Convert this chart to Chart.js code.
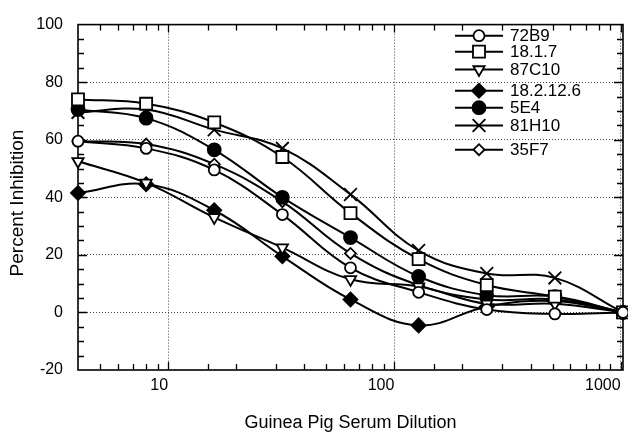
<!DOCTYPE html>
<html><head><meta charset="utf-8">
<script src="https://cdn.jsdelivr.net/npm/chart.js@4/dist/chart.umd.min.js"></script>
<style>html,body{margin:0;padding:0;background:#fff}canvas{display:block}</style>
</head><body>
<canvas id="c" width="628" height="434"></canvas>
<script>
// ---- data ----
const dilutions = [4, 8, 16, 32, 64, 128, 256, 512, 1024];
const s72B9    = [59.5, 57, 49.5, 34, 15.5, 7, 1, -0.5, 0];
const s1817    = [74, 72.5, 66, 54, 34.5, 18.5, 9.5, 5.5, 0];
const s87C10   = [52.5, 45, 33, 22.5, 11.5, 9, 3, 3, 0];
const s1821226 = [41.5, 44.5, 35.5, 19.5, 4.5, -4.5, 2, 4, 0];
const s5E4     = [70.5, 67.5, 56.5, 40, 26, 12.5, 6, 5.5, 0];
const s81H10   = [69.5, 70.5, 63.5, 57, 41, 21.5, 13.5, 12, 0];
const s35F7    = [59.5, 58.5, 51.5, 38.5, 20.5, 9.5, 4.5, 4.5, 0];
const seriesLabels = ['72B9', '18.1.7', '87C10', '18.2.12.6', '5E4', '81H10', '35F7'];
const xTickLabels = [10, 100, 1000];
const yGridValues = [0, 20, 40, 60, 80];
const xTitle = 'Guinea Pig Serum Dilution';
const yTitle = 'Percent Inhibition';

const FONT = '"Liberation Sans", Arial, Helvetica, sans-serif';
const seriesValues = [s72B9, s1817, s87C10, s1821226, s5E4, s81H10, s35F7];
const styles = [
  {pointStyle: 'circle',   pointRadius: 5.5, fill: '#fff', rot: 0},
  {pointStyle: 'rect',     pointRadius: 8.5, fill: '#fff', rot: 0},
  {pointStyle: 'triangle', pointRadius: 6.5, fill: '#fff', rot: 180},
  {pointStyle: 'rectRot',  pointRadius: 7,   fill: '#000', rot: 0},
  {pointStyle: 'circle',   pointRadius: 6.5, fill: '#000', rot: 0},
  {pointStyle: 'crossRot', pointRadius: 9,   fill: '#000', rot: 0},
  {pointStyle: 'rectRot',  pointRadius: 5.5, fill: '#fff', rot: 0}
];

const datasets = seriesLabels.map((lab, i) => ({
  label: lab,
  data: dilutions.map((x, j) => ({x: x, y: seriesValues[i][j]})),
  borderColor: '#000',
  borderWidth: 2,
  tension: 0.4,
  clip: false,
  pointStyle: styles[i].pointStyle,
  pointRadius: styles[i].pointRadius,
  pointRotation: styles[i].rot,
  pointBackgroundColor: styles[i].fill,
  pointBorderColor: '#000',
  pointBorderWidth: 1.8,
  fill: false
}));

function drawMarker(ctx, st, x, y) {
  ctx.save();
  ctx.fillStyle = st.fill; ctx.strokeStyle = '#000'; ctx.lineWidth = 1.8;
  Chart.helpers.drawPoint(ctx, {pointStyle: st.pointStyle, radius: st.pointRadius, rotation: st.rot, borderWidth: 1.8}, x, y);
  ctx.restore();
}

const framePlugin = {
  id: 'frame',
  beforeDatasetsDraw(chart, args, opts) {
    const ctx = chart.ctx, a = chart.chartArea;
    const xs = chart.scales.x, ys = chart.scales.y;
    ctx.save();
    ctx.strokeStyle = '#000';
    ctx.lineWidth = 1.6;
    ctx.strokeRect(a.left, a.top, a.right - a.left, a.bottom - a.top);
    ctx.lineWidth = 1.3;
    ctx.beginPath();
    xs.ticks.forEach(t => {
      const v = t.value;
      if (v <= xs.min || v >= xs.max) return;
      const px = Math.round(xs.getPixelForValue(v)) + 0.5;
      const major = Math.abs(Math.log10(v) - Math.round(Math.log10(v))) < 1e-9;
      const len = major ? 8 : 6;
      ctx.moveTo(px, a.bottom); ctx.lineTo(px, a.bottom - len);
      ctx.moveTo(px, a.top); ctx.lineTo(px, a.top + len);
    });
    for (let v = ys.min + 5; v < ys.max; v += 5) {
      const py = Math.round(ys.getPixelForValue(v)) + 0.5;
      const len = (v % 20 === 0) ? 9 : 6;
      ctx.moveTo(a.left, py); ctx.lineTo(a.left + len, py);
      ctx.moveTo(a.right, py); ctx.lineTo(a.right - len, py);
    }
    ctx.stroke();
    // y axis title
    ctx.translate(opts.yTitleX, opts.yTitleY);
    ctx.rotate(-Math.PI / 2);
    ctx.fillStyle = '#000';
    ctx.font = '19px ' + FONT;
    ctx.textAlign = 'center';
    ctx.textBaseline = 'middle';
    ctx.fillText(yTitle, 0, 0);
    ctx.restore();
  }
};

const legendPlugin = {
  id: 'insideLegend',
  afterDraw(chart, args, opts) {
    const ctx = chart.ctx;
    ctx.save();
    chart.data.datasets.forEach((ds, i) => {
      const y = opts.rows[i];
      ctx.strokeStyle = '#000'; ctx.lineWidth = 2;
      ctx.beginPath(); ctx.moveTo(opts.x0, y); ctx.lineTo(opts.x1, y); ctx.stroke();
      drawMarker(ctx, styles[i], (opts.x0 + opts.x1) / 2, y);
      ctx.fillStyle = '#000';
      ctx.font = '17px ' + FONT;
      ctx.textBaseline = 'middle';
      ctx.textAlign = 'left';
      ctx.fillText(ds.label, opts.tx, y + 1);
    });
    ctx.restore();
  }
};

new Chart(document.getElementById('c'), {
  type: 'line',
  data: {datasets: datasets},
  plugins: [framePlugin, legendPlugin],
  options: {
    responsive: false,
    animation: false,
    layout: {autoPadding: false, padding: {top: 20, right: 5, left: 0, bottom: 0}},
    plugins: {
      legend: {display: false},
      tooltip: {enabled: false},
      frame: {yTitleX: 18, yTitleY: 203},
      insideLegend: {x0: 455, x1: 503, tx: 510, rows: [35.7, 51.7, 69.5, 90.7, 107.7, 125.5, 149.7]}
    },
    scales: {
      x: {
        type: 'logarithmic',
        min: 4, max: 1024,
        afterFit: s => { s.height = 64; s.paddingRight = 0; s.paddingLeft = 0; },
        border: {display: false, dash: [1, 2]},
        grid: {
          drawTicks: false,
          color: c => (c.tick && xTickLabels.includes(c.tick.value)) ? '#444' : 'rgba(0,0,0,0)',
          lineWidth: 1
        },
        ticks: {
          autoSkip: false,
          maxRotation: 0,
          align: 'end',
          padding: 6,
          color: '#000',
          font: {family: FONT, size: 16},
          callback: v => xTickLabels.includes(v) ? String(v) : ''
        },
        title: {display: true, text: xTitle, color: '#000',
          font: {family: FONT, size: 18}, padding: {top: 0, bottom: 0}}
      },
      y: {
        type: 'linear',
        min: -20, max: 100,
        afterFit: s => { s.width = 78; },
        border: {display: false, dash: [1, 2]},
        grid: {
          drawTicks: false,
          color: c => (c.tick && yGridValues.includes(c.tick.value)) ? '#444' : 'rgba(0,0,0,0)',
          lineWidth: 1
        },
        ticks: {
          stepSize: 20,
          padding: 15,
          color: '#000',
          font: {family: FONT, size: 16}
        },
        title: {display: false}
      }
    }
  }
});
</script>
</body></html>
